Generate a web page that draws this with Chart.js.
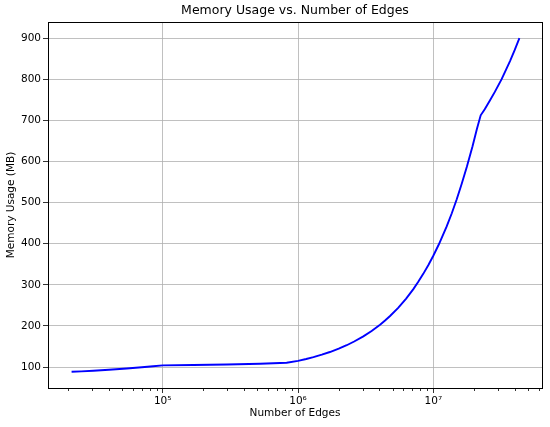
<!DOCTYPE html>
<html>
<head>
<meta charset="utf-8">
<script src="https://cdn.jsdelivr.net/npm/chart.js@4/dist/chart.umd.min.js"></script>
<style>
  html, body { margin: 0; padding: 0; background: #ffffff; }
  #wrap { width: 550px; height: 427px; }
</style>
</head>
<body>
<div id="wrap"><canvas id="c" width="550" height="427"></canvas></div>
<script>
// ---- data ----
const edges = [21200, 25000, 30700, 40000, 54200, 70000, 85000, 100000,
  168000, 297000, 524000, 824000,
  1000000, 1150000, 1300000, 1500000, 1720000, 2000000, 2290000, 2600000,
  3040000, 3500000, 4040000, 4400000, 4790000, 5500000, 6300000, 7120000,
  7700000, 8430000, 9200000, 10000000, 11000000, 12560000, 13700000,
  14900000, 16200000, 17700000, 19500000, 21000000, 22400000,
  24000000, 26200000, 28500000, 32000000, 34500000, 36900000, 40000000, 43300000];
const memoryMB = [88.5, 89.5, 91, 93.5, 96.5, 99.5, 102, 104,
  105, 106, 108, 110.5,
  115, 119.5, 124, 130, 136.5, 144.5, 153, 162,
  174.5, 187.5, 203, 213, 224, 244, 266.5, 289.5,
  306, 326.5, 348, 370.5, 398.5, 442, 474,
  508, 545, 587, 637, 679, 712,
  727, 748, 769, 800, 823, 844, 871, 900];
const xMajorTicks = [1e5, 1e6, 1e7];
const xMajorLabels = ['10\u2075', '10\u2076', '10\u2077'];
const xMinorTicks = [2e4, 3e4, 4e4, 5e4, 6e4, 7e4, 8e4, 9e4,
  2e5, 3e5, 4e5, 5e5, 6e5, 7e5, 8e5, 9e5,
  2e6, 3e6, 4e6, 5e6, 6e6, 7e6, 8e6, 9e6,
  2e7, 3e7, 4e7, 5e7, 6e7];
const yTicks = [100, 200, 300, 400, 500, 600, 700, 800, 900];
const titleText = 'Memory Usage vs. Number of Edges';
const xTitle = 'Number of Edges';
const yTitle = 'Memory Usage (MB)';

const FONT = "'DejaVu Sans', sans-serif";
Chart.defaults.font.family = FONT;
Chart.defaults.color = '#000000';

const framePlugin = {
  id: 'frame',
  afterDraw(chart) {
    const ctx = chart.ctx;
    const a = chart.chartArea;
    const xs = chart.scales.x;
    ctx.save();
    // minor ticks on x axis
    ctx.strokeStyle = '#000000';
    ctx.lineWidth = 0.8;
    ctx.beginPath();
    xMinorTicks.forEach(v => {
      const px = Math.round(xs.getPixelForValue(v)) + 0.5;
      if (px < a.left || px > a.right) return;
      ctx.moveTo(px, a.bottom);
      ctx.lineTo(px, a.bottom + 3);
    });
    ctx.stroke();
    // box
    ctx.lineWidth = 1;
    ctx.strokeStyle = '#000000';
    ctx.strokeRect(Math.round(a.left) + 0.5, Math.round(a.top) + 0.5,
      Math.round(a.right - a.left), Math.round(a.bottom - a.top));
    // title centred over the axes
    ctx.fillStyle = '#000000';
    ctx.font = "12.5px " + FONT;
    ctx.textAlign = 'center';
    ctx.textBaseline = 'middle';
    ctx.fillText(titleText, (a.left + a.right) / 2, 11);
    ctx.restore();
  }
};

new Chart(document.getElementById('c'), {
  type: 'line',
  data: {
    datasets: [{
      data: edges.map((e, i) => ({ x: e, y: memoryMB[i] })),
      borderColor: '#0000ff',
      borderWidth: 1.9,
      pointRadius: 0,
      tension: 0,
      fill: false
    }]
  },
  options: {
    responsive: false,
    animation: false,
    layout: { padding: { top: 22, right: 8, left: 0, bottom: 0 } },
    plugins: { legend: { display: false }, tooltip: { enabled: false }, title: { display: false } },
    scales: {
      x: {
        type: 'logarithmic',
        min: 14190,
        max: 63600000,
        afterBuildTicks(scale) { scale.ticks = xMajorTicks.map(v => ({ value: v })); },
        afterFit(scale) { scale.height = 39; },
        ticks: {
          autoSkip: false,
          maxRotation: 0,
          padding: 2,
          font: { size: 10.5 },
          color: '#000000',
          callback(value) {
            const i = xMajorTicks.indexOf(value);
            return i >= 0 ? xMajorLabels[i] : '';
          }
        },
        grid: { color: '#b0b0b0', lineWidth: 0.8, tickColor: '#000000', tickLength: 5, drawTicks: true },
        border: { display: true, color: '#000000', width: 1 },
        title: { display: true, text: xTitle, font: { size: 10.5 }, color: '#000000', padding: { top: 0, bottom: 7 } }
      },
      y: {
        type: 'linear',
        min: 49,
        max: 939,
        afterBuildTicks(scale) { scale.ticks = yTicks.map(v => ({ value: v })); },
        afterFit(scale) { scale.width = 48; },
        ticks: { padding: 2, font: { size: 10.5 }, color: '#000000' },
        grid: { color: '#b0b0b0', lineWidth: 0.8, tickColor: '#000000', tickLength: 5, drawTicks: true },
        border: { display: true, color: '#000000', width: 1 },
        title: { display: true, text: yTitle, font: { size: 10.5 }, color: '#000000', padding: { top: 5, bottom: 0 } }
      }
    }
  },
  plugins: [framePlugin]
});
</script>
</body>
</html>
